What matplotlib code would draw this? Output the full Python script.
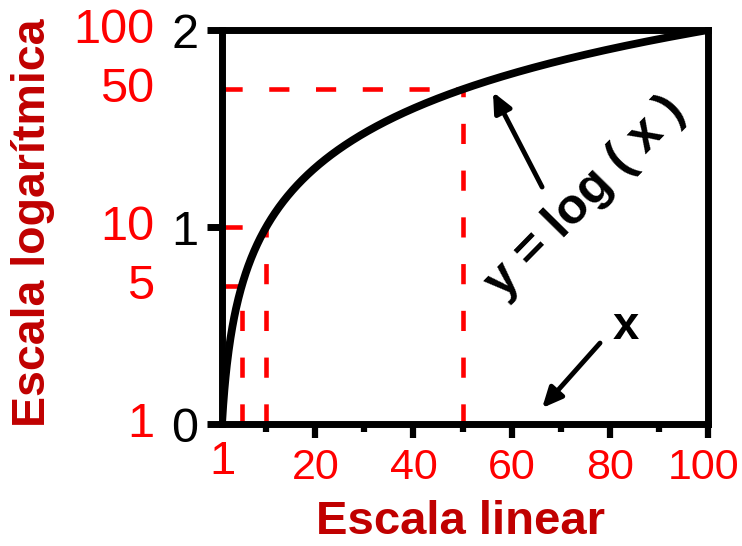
import numpy as np
import matplotlib
matplotlib.use("Agg")
import matplotlib.pyplot as plt
from matplotlib.transforms import blended_transform_factory, ScaledTranslation

plt.rcParams['font.family'] = ['Liberation Sans', 'DejaVu Sans']

# Data
x_min, x_max = 1, 100
x_major = [20, 40, 60, 80, 100]
x_minor = [10, 30, 50, 70, 90]
y_major = [0, 1, 2]
log_labels = [1, 5, 10, 50, 100]
guide_points = [5, 10, 50]

RED = "#FF0000"
DARK_RED = "#C00000"

fig = plt.figure(figsize=(7.42, 5.46), dpi=100)
ax = fig.add_axes([0.2992, 0.2234, 0.655, 0.7216])

xs = np.linspace(x_min, x_max, 800)
ax.plot(xs, np.log10(xs), color="black", lw=5.6, solid_capstyle="butt", zorder=3)

# Guide lines from the axes to the curve
for v in guide_points:
    yv = np.log10(v)
    ax.plot([v, v], [0, yv], color=RED, lw=3.3, dashes=(4.4, 5.8), zorder=2)
    ax.plot([x_min, v], [yv, yv], color=RED, lw=3.3, dashes=(4.4, 5.8), zorder=2)

ax.set_xlim(x_min, x_max)
ax.set_ylim(0, 2)

for s in ax.spines.values():
    s.set_linewidth(5)

ax.set_xticks(x_major)
ax.set_xticks(x_minor, minor=True)
ax.set_xticklabels([str(v) for v in x_major])
ax.set_yticks(y_major)
ax.set_yticklabels([str(v) for v in y_major])
ax.tick_params(axis="x", which="major", length=10, width=4.5, direction="out",
               labelsize=31, labelcolor=RED, pad=7)
ax.tick_params(axis="x", which="minor", length=6, width=4.5, direction="out")
ax.tick_params(axis="y", which="major", length=11, width=5, direction="out",
               labelsize=35, labelcolor="black", pad=6)

# Keep the last x label inside the figure edge
last = ax.get_xticklabels()[-1]
last.set_transform(last.get_transform() +
                   ScaledTranslation(-3 / 72, 0, fig.dpi_scale_trans))

# Label for the start of the linear axis
ax.annotate("1", xy=(x_min, 0), xycoords="data", xytext=(0, -11.5),
            textcoords="offset points", ha="center", va="top",
            fontsize=34, color=RED)

# Logarithmic scale labels on the left
ytrans = blended_transform_factory(ax.transAxes, ax.transData)
for v in log_labels:
    ax.annotate(str(v), xy=(0, np.log10(v)), xycoords=ytrans,
                xytext=(-49, 0), textcoords="offset points",
                ha="right", va="center", fontsize=35, color=RED,
                annotation_clip=False)

fig.text(0.0445, 0.592, "Escala logarítmica", rotation=90, ha="center",
         va="center", fontsize=33.5, fontweight="bold", color=DARK_RED)
fig.text(0.621, 0.044, "Escala linear", ha="center", va="center",
         fontsize=34, fontweight="bold", color=DARK_RED)

# Annotations
ax.annotate("", xy=(56.2, 1.685), xytext=(66.2, 1.203),
            arrowprops=dict(arrowstyle="-|>,head_length=1.2,head_width=0.55",
                            color="black", lw=3.5, shrinkA=0, shrinkB=0))
ax.text(75, 1.15, "y = log ( x )", rotation=45.5, rotation_mode="anchor",
        ha="center", va="center", fontsize=36, fontweight="bold", color="black")

ax.annotate("", xy=(66.2, 0.081), xytext=(78.0, 0.411),
            arrowprops=dict(arrowstyle="-|>,head_length=1.2,head_width=0.55",
                            color="black", lw=3.5, shrinkA=0, shrinkB=0))
ax.text(83.3, 0.49, "x", ha="center", va="center", fontsize=34,
        fontweight="bold", color="black")

fig.savefig("out.png", dpi=100)
